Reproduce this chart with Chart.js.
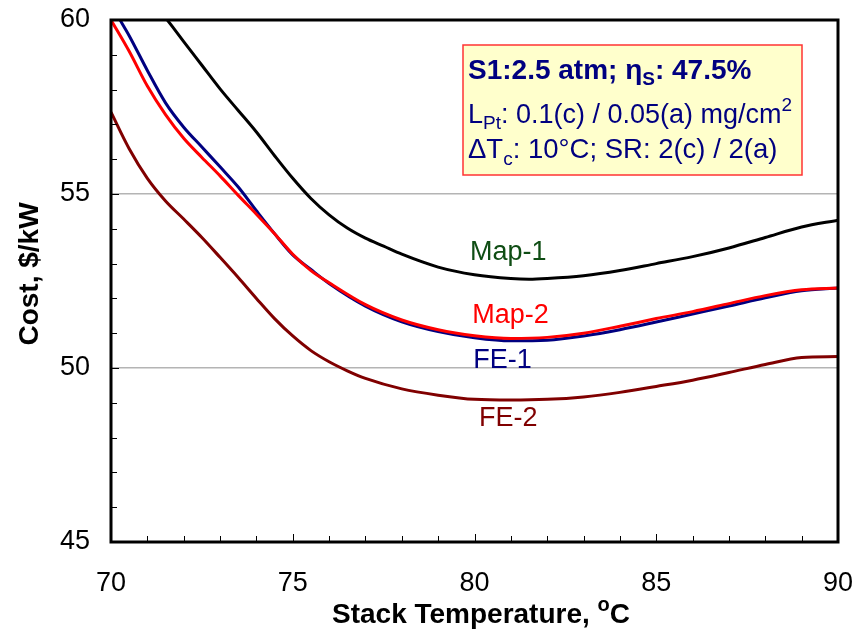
<!DOCTYPE html>
<html>
<head>
<meta charset="utf-8">
<script src="https://cdn.jsdelivr.net/npm/chart.js@4.4.1/dist/chart.umd.min.js"></script>
<style>
  html, body { margin: 0; padding: 0; background: #fff; }
  #wrap { width: 866px; height: 634px; }
</style>
</head>
<body>
<div id="wrap"><canvas id="costChart" width="866" height="634"></canvas></div>
<script>
// stack temperature (C) and cost ($/kW)
const map1Temp = [71.55, 72, 72.5, 73, 73.5, 74, 74.5, 75, 75.5, 76, 76.5, 77, 77.5, 78, 79, 80, 81, 81.5, 82, 83, 84, 85, 86, 87, 88, 89, 90];
const map1Cost = [60, 59.38, 58.7, 58.02, 57.4, 56.78, 56.1, 55.45, 54.87, 54.4, 54.02, 53.73, 53.5, 53.27, 52.9, 52.68, 52.57, 52.55, 52.57, 52.65, 52.8, 53.0, 53.2, 53.45, 53.75, 54.05, 54.25];

const map2Temp = [70, 70.5, 71, 71.5, 72, 72.5, 73, 73.5, 74, 74.5, 75, 75.5, 76, 77, 78, 79, 80, 81, 82, 83, 84, 85, 86, 87, 88, 89, 90];
const map2Cost = [60, 59.1, 58.1, 57.28, 56.6, 56.05, 55.52, 54.96, 54.42, 53.86, 53.27, 52.8, 52.45, 51.82, 51.38, 51.1, 50.93, 50.85, 50.88, 51.0, 51.2, 51.42, 51.62, 51.85, 52.08, 52.25, 52.3];

const fe1Temp = [70.25, 70.5, 71, 71.5, 72, 72.5, 73, 73.5, 74, 74.5, 75, 75.5, 76, 77, 78, 79, 80, 81, 82, 83, 84, 85, 86, 87, 88, 89, 90];
const fe1Cost = [60, 59.55, 58.55, 57.62, 56.92, 56.35, 55.78, 55.2, 54.52, 53.86, 53.25, 52.83, 52.43, 51.78, 51.33, 51.05, 50.87, 50.78, 50.8, 50.92, 51.1, 51.32, 51.55, 51.78, 52.02, 52.22, 52.3];

const fe2Temp = [70, 70.5, 71, 71.5, 72, 72.5, 73, 73.5, 74, 74.5, 75, 75.5, 76, 76.5, 77, 78, 79, 80, 81, 82, 83, 84, 85, 86, 87, 88, 89, 90];
const fe2Cost = [57.35, 56.3, 55.45, 54.8, 54.28, 53.75, 53.18, 52.6, 52.0, 51.42, 50.92, 50.5, 50.18, 49.92, 49.7, 49.4, 49.22, 49.1, 49.08, 49.1, 49.17, 49.3, 49.47, 49.65, 49.87, 50.1, 50.3, 50.33];

const xTicks = [70, 75, 80, 85, 90];
const yTicks = [45, 50, 55, 60];

// curve names and where they sit on the plot (temp, cost)
const curveLabels = [
    { text: "Map-1", t: 80.93, c: 53.33, color: "#0f4d14" },
    { text: "Map-2", t: 80.99, c: 51.5, color: "#ff0000" },
    { text: "FE-1", t: 80.77, c: 50.2, color: "#000080" },
    { text: "FE-2", t: 80.93, c: 48.55, color: "#800000" },
];

const FONT = "'Liberation Sans', Arial, sans-serif";

function toPoints(xs, ys) {
    return xs.map((x, i) => ({ x: x, y: ys[i] }));
}

function curve(label, xs, ys, color, order) {
    return {
        label: label,
        data: toPoints(xs, ys),
        borderColor: color,
        backgroundColor: color,
        borderWidth: 3,
        pointRadius: 0,
        cubicInterpolationMode: "monotone",
        fill: false,
        order: order,
    };
}

// tick labels hang over the plot edges; keep chart.js from shrinking the plot for them
function fixAxis(scale, size) {
    if (scale.isHorizontal()) scale.height = size;
    else scale.width = size;
    scale.paddingTop = 0;
    scale.paddingBottom = 0;
    scale.paddingLeft = 0;
    scale.paddingRight = 0;
}

// draws a run of text pieces, some of them sub/superscript
function drawRich(ctx, x, y, parts, color) {
    ctx.fillStyle = color;
    ctx.textBaseline = "alphabetic";
    ctx.textAlign = "left";
    parts.forEach(p => {
        ctx.font = p.font;
        ctx.fillText(p.t, x, y + (p.dy || 0));
        x += ctx.measureText(p.t).width;
    });
}

function richWidth(ctx, parts) {
    let w = 0;
    parts.forEach(p => {
        ctx.font = p.font;
        w += ctx.measureText(p.t).width;
    });
    return w;
}

const decorPlugin = {
    id: "decor",
    afterDatasetsDraw(chart) {
        const ctx = chart.ctx;
        const area = chart.chartArea;
        const xs = chart.scales.x;
        const ys = chart.scales.y;
        ctx.save();

        // minor ticks, inside the frame
        ctx.strokeStyle = "#000";
        ctx.lineWidth = 1;
        for (let v = 71; v < 90; v++) {
            const px = Math.round(xs.getPixelForValue(v)) + 0.5;
            const len = v % 5 === 0 ? 8 : 6;
            ctx.beginPath();
            ctx.moveTo(px, area.bottom);
            ctx.lineTo(px, area.bottom - len);
            ctx.stroke();
        }
        for (let v = 46; v < 60; v++) {
            const py = Math.round(ys.getPixelForValue(v)) + 0.5;
            const len = v % 5 === 0 ? 8 : 6;
            ctx.beginPath();
            ctx.moveTo(area.left, py);
            ctx.lineTo(area.left + len, py);
            ctx.stroke();
        }

        // frame
        ctx.lineWidth = 3;
        ctx.strokeRect(area.left, area.top, area.right - area.left, area.bottom - area.top);

        // curve names
        ctx.font = "27px " + FONT;
        ctx.textAlign = "center";
        ctx.textBaseline = "middle";
        curveLabels.forEach(l => {
            ctx.fillStyle = l.color;
            ctx.fillText(l.text, xs.getPixelForValue(l.t), ys.getPixelForValue(l.c));
        });

        // condition box
        const bx = 463, by = 45, bw = 339, bh = 130;
        ctx.fillStyle = "#ffffcc";
        ctx.fillRect(bx, by, bw, bh);
        ctx.strokeStyle = "#ff3333";
        ctx.lineWidth = 1.5;
        ctx.strokeRect(bx, by, bw, bh);

        const big = "bold 28px " + FONT;
        const reg = "27px " + FONT;
        const smallB = "bold 19px " + FONT;
        const small = "19px " + FONT;
        const navy = "#000080";
        drawRich(ctx, 468, 79, [
            { t: "S1:2.5 atm; \u03b7", font: big },
            { t: "S", font: smallB, dy: 6 },
            { t: ": 47.5%", font: big },
        ], navy);
        drawRich(ctx, 468, 123, [
            { t: "L", font: reg },
            { t: "Pt", font: small, dy: 6 },
            { t: ": 0.1(c) / 0.05(a) mg/cm", font: reg },
            { t: "2", font: small, dy: -12 },
        ], navy);
        drawRich(ctx, 468, 158, [
            { t: "\u0394T", font: "27.5px " + FONT },
            { t: "c", font: small, dy: 7 },
            { t: ": 10\u00b0C; SR: 2(c) / 2(a)", font: "27.5px " + FONT },
        ], navy);

        // axis titles
        const xTitle = [
            { t: "Stack Temperature, ", font: "bold 28px " + FONT },
            { t: "o", font: "bold 20px " + FONT, dy: -12 },
            { t: "C", font: "bold 28px " + FONT },
        ];
        const tw = richWidth(ctx, xTitle);
        drawRich(ctx, 481 - tw / 2, 623, xTitle, "#000");

        ctx.translate(30, 274);
        ctx.rotate(-Math.PI / 2);
        ctx.font = "bold 28px " + FONT;
        ctx.fillStyle = "#000";
        ctx.textAlign = "center";
        ctx.textBaseline = "middle";
        ctx.fillText("Cost, $/kW", 0, 0);

        ctx.restore();
    },
};

new Chart(document.getElementById("costChart"), {
    type: "line",
    data: {
        datasets: [
            curve("Map-2", map2Temp, map2Cost, "#ff0000", 0),
            curve("FE-1", fe1Temp, fe1Cost, "#000080", 1),
            curve("Map-1", map1Temp, map1Cost, "#000000", 2),
            curve("FE-2", fe2Temp, fe2Cost, "#800000", 3),
        ],
    },
    options: {
        responsive: false,
        animation: false,
        layout: { padding: { top: 20, right: 28, left: 0, bottom: 0 } },
        plugins: {
            legend: { display: false },
            tooltip: { enabled: false },
        },
        scales: {
            x: {
                type: "linear",
                min: 70,
                max: 90,
                afterBuildTicks: scale => { scale.ticks = xTicks.map(v => ({ value: v })); },
                ticks: { color: "#000", font: { family: FONT, size: 27 }, padding: 25, maxRotation: 0 },
                grid: { display: false, drawTicks: false },
                border: { display: false },
                afterFit: scale => fixAxis(scale, 92),
            },
            y: {
                min: 45,
                max: 60,
                afterBuildTicks: scale => { scale.ticks = yTicks.map(v => ({ value: v })); },
                ticks: { color: "#000", font: { family: FONT, size: 27 }, padding: 21 },
                grid: {
                    drawTicks: false,
                    lineWidth: 1.5,
                    color: c => (c.tick && (c.tick.value === 50 || c.tick.value === 55)) ? "#b4b4b4" : "rgba(0,0,0,0)",
                },
                border: { display: false },
                afterFit: scale => fixAxis(scale, 111),
            },
        },
    },
    plugins: [decorPlugin],
});
</script>
</body>
</html>
